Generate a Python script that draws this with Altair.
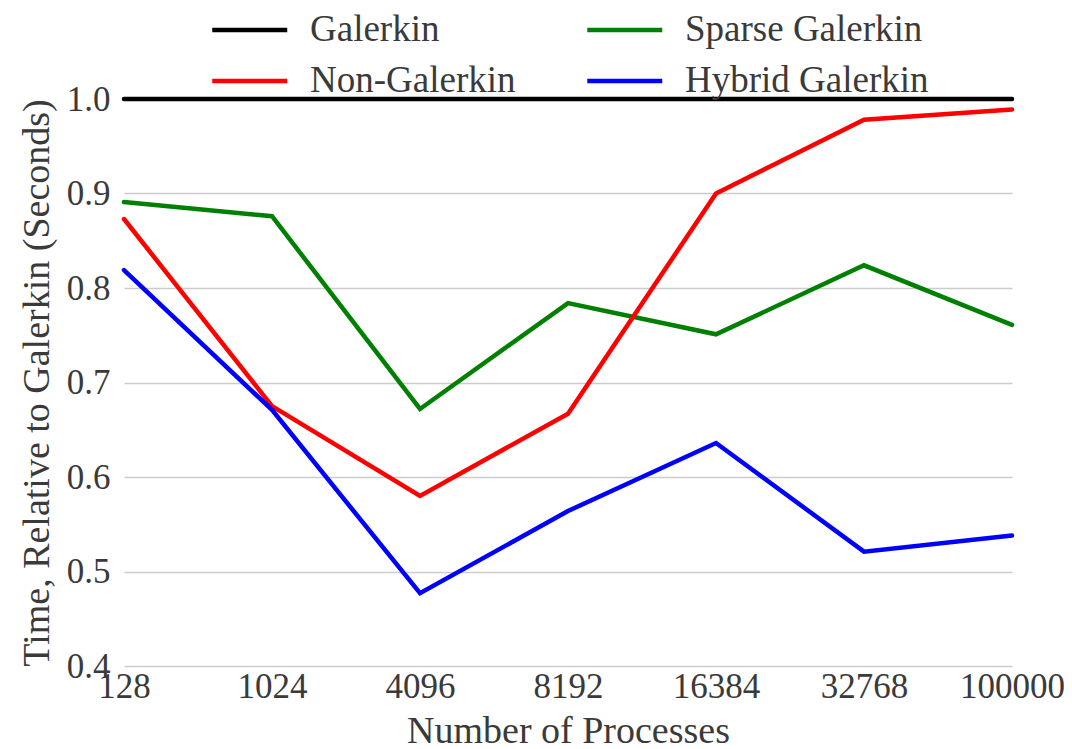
import altair as alt
import pandas as pd

procs = ["128", "1024", "4096", "8192", "16384", "32768", "100000"]
galerkin = [1.0, 1.0, 1.0, 1.0, 1.0, 1.0, 1.0]
non_galerkin = [0.873, 0.675, 0.580, 0.667, 0.900, 0.978, 0.989]
sparse_galerkin = [0.891, 0.876, 0.672, 0.784, 0.751, 0.824, 0.761]
hybrid_galerkin = [0.819, 0.671, 0.477, 0.564, 0.636, 0.521, 0.538]

series_names = ["Galerkin", "Non-Galerkin", "Sparse Galerkin", "Hybrid Galerkin"]
series_vals = [galerkin, non_galerkin, sparse_galerkin, hybrid_galerkin]
series_colors = ["#000000", "#ff0000", "#008000", "#0000ff"]
draw_order = ["Galerkin", "Sparse Galerkin", "Non-Galerkin", "Hybrid Galerkin"]

rows = []
for name, vals in zip(series_names, series_vals):
    for p, v in zip(procs, vals):
        rows.append({"procs": p, "value": v, "series": name})
df = pd.DataFrame(rows)

FONT = "Liberation Serif"
TXT = "#3a3a3a"

x = alt.X("procs:N", sort=procs, title="Number of Processes",
          scale=alt.Scale(type="point", padding=0),
          axis=alt.Axis(labelAngle=0, domain=False, ticks=False, grid=False,
                        labelPadding=3, titlePadding=8, labelFontSize=35,
                        titleFontSize=38, labelFont=FONT, titleFont=FONT,
                        labelColor=TXT, titleColor=TXT, titleFontWeight="normal"))
y = alt.Y("value:Q", title="Time, Relative to Galerkin (Seconds)",
          scale=alt.Scale(domain=[0.4, 1.0], nice=False, zero=False),
          axis=alt.Axis(values=[0.4, 0.5, 0.6, 0.7, 0.8, 0.9, 1.0], format=".1f",
                        domain=False, ticks=False, grid=True, gridColor="#cccccc",
                        gridWidth=1.5, labelPadding=14, titlePadding=10,
                        labelFontSize=35, titleFontSize=38, labelFont=FONT,
                        titleFont=FONT, labelColor=TXT, titleColor=TXT,
                        titleFontWeight="normal"))
color = alt.Color("series:N", scale=alt.Scale(domain=series_names, range=series_colors),
                  legend=alt.Legend(title=None, orient="none", legendX=86, legendY=-90,
                                    columns=2, direction="vertical",
                                    columnPadding=62, rowPadding=12,
                                    symbolType="M-1,0H3", symbolSize=1406,
                                    symbolStrokeWidth=4.5, labelFontSize=37,
                                    labelOffset=58, labelColor=TXT, labelFont=FONT,
                                    labelLimit=500))

layers = []
for name in draw_order:
    layers.append(
        alt.Chart(df).transform_filter(alt.datum.series == name)
        .mark_line(strokeWidth=4.5, strokeCap="round")
        .encode(x=x, y=y, color=color)
    )

chart = alt.layer(*layers).properties(
    width=888, height=567,
    background="white",
    autosize=alt.AutoSizeParams(type="none"),
    padding={"left": 116, "top": 91, "right": 52, "bottom": 83},
).configure_view(stroke=None)

chart.save("out.html", embed_options={"renderer": "svg", "actions": False})
